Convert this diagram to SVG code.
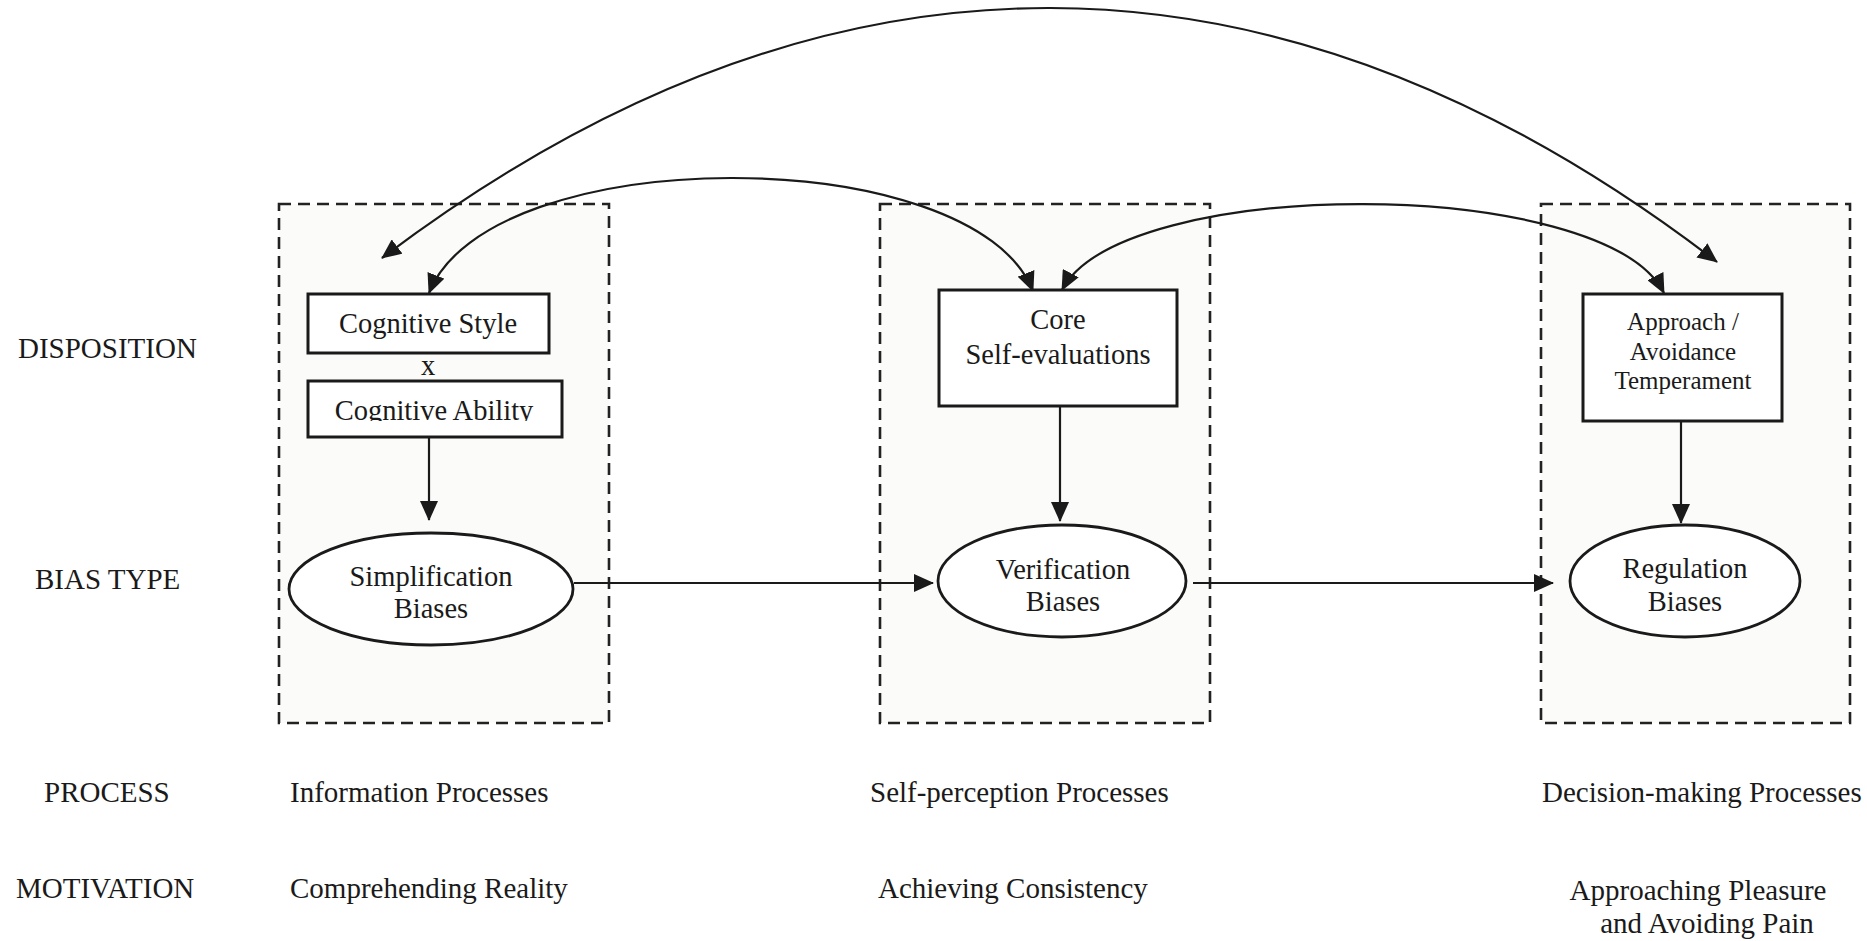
<svg xmlns="http://www.w3.org/2000/svg" width="1867" height="941" viewBox="0 0 1867 941">
<style>
text{font-family:"Liberation Serif","Times New Roman",serif;fill:#1a1a1a}
.lbl{font-size:29px}
.nt{font-size:28.5px;text-anchor:middle}
.st{font-size:25px;text-anchor:middle}
.grp{fill:#fbfbf9;stroke:#222;stroke-width:2.6;stroke-dasharray:12 7}
.box{fill:#fff;stroke:#1a1a1a;stroke-width:3}
.ell{fill:#fff;stroke:#1a1a1a;stroke-width:2.8}
.con{fill:none;stroke:#1a1a1a;stroke-width:2.2}
</style>
<defs>
<marker id="ah" markerUnits="userSpaceOnUse" markerWidth="20" markerHeight="18" viewBox="0 0 20 18" refX="19" refY="9" orient="auto-start-reverse">
<path d="M0,0 L20,9 L0,18 z" fill="#1a1a1a"/>
</marker>
<clipPath id="clipAbility"><rect x="300" y="380" width="270" height="41"/></clipPath>
</defs>
<rect width="1867" height="941" fill="#fff"/>

<g id="group-simplification">
<rect class="grp" x="279" y="204" width="330" height="519"/>
</g>
<g id="group-verification">
<rect class="grp" x="880" y="204" width="330" height="519"/>
</g>
<g id="group-regulation">
<rect class="grp" x="1541" y="204" width="309" height="519"/>
</g>

<g id="row-labels">
<text class="lbl" x="18" y="358">DISPOSITION</text>
<text class="lbl" x="35" y="589">BIAS TYPE</text>
<text class="lbl" x="44" y="802">PROCESS</text>
<text class="lbl" x="16" y="898">MOTIVATION</text>
</g>

<g id="column-labels">
<text class="lbl" x="290" y="802">Information Processes</text>
<text class="lbl" x="870" y="802">Self-perception Processes</text>
<text class="lbl" x="1542" y="802">Decision-making Processes</text>
<text class="lbl" x="290" y="898">Comprehending Reality</text>
<text class="lbl" x="878" y="898">Achieving Consistency</text>
<text class="lbl" x="1698" y="900" text-anchor="middle">Approaching Pleasure</text>
<text class="lbl" x="1707" y="933" text-anchor="middle">and Avoiding Pain</text>
</g>

<g id="connectors">
<path class="con" d="M382,258 C824,-76 1277,-76 1717,262" marker-start="url(#ah)" marker-end="url(#ah)"/>
<path class="con" d="M429,293 C489,140 973,140 1033,291" marker-start="url(#ah)" marker-end="url(#ah)"/>
<path class="con" d="M1062,290 C1122,175 1604,175 1664,293" marker-start="url(#ah)" marker-end="url(#ah)"/>
<path class="con" d="M429,437 L429,520" marker-end="url(#ah)"/>
<path class="con" d="M1060,406 L1060,521" marker-end="url(#ah)"/>
<path class="con" d="M1681,421 L1681,523" marker-end="url(#ah)"/>
<path class="con" d="M574,583 L933,583" marker-end="url(#ah)"/>
<path class="con" d="M1193,583 L1553,583" marker-end="url(#ah)"/>
</g>

<g id="cognitive-style">
<rect class="box" x="308" y="294" width="241" height="59"/>
<text class="nt" x="428" y="333">Cognitive Style</text>
</g>
<g id="interaction-x">
<text class="nt" x="428" y="375">x</text>
</g>
<g id="cognitive-ability">
<rect class="box" x="308" y="381" width="254" height="56"/>
<text class="nt" x="434" y="420" clip-path="url(#clipAbility)">Cognitive Ability</text>
</g>
<g id="core-self-evaluations">
<rect class="box" x="939" y="290" width="238" height="116"/>
<text class="nt" x="1058" y="329">Core</text>
<text class="nt" x="1058" y="364">Self-evaluations</text>
</g>
<g id="approach-avoidance">
<rect class="box" x="1583" y="294" width="199" height="127"/>
<text class="st" x="1683" y="330">Approach /</text>
<text class="st" x="1683" y="360">Avoidance</text>
<text class="st" x="1683" y="389">Temperament</text>
</g>
<g id="simplification-biases">
<ellipse class="ell" cx="431" cy="589" rx="142" ry="56"/>
<text class="nt" x="431" y="586">Simplification</text>
<text class="nt" x="431" y="618">Biases</text>
</g>
<g id="verification-biases">
<ellipse class="ell" cx="1062" cy="581" rx="124" ry="56"/>
<text class="nt" x="1063" y="579">Verification</text>
<text class="nt" x="1063" y="611">Biases</text>
</g>
<g id="regulation-biases">
<ellipse class="ell" cx="1685" cy="581" rx="115" ry="56"/>
<text class="nt" x="1685" y="578">Regulation</text>
<text class="nt" x="1685" y="611">Biases</text>
</g>
</svg>
